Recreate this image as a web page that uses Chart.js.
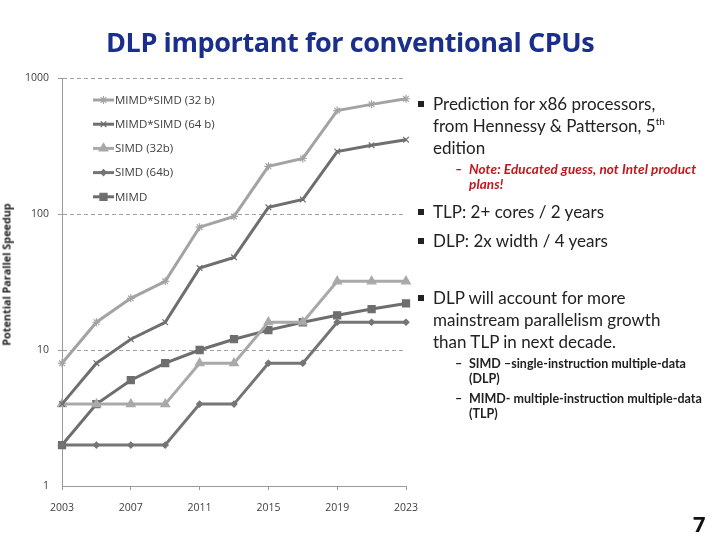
<!DOCTYPE html>
<html><head><meta charset="utf-8">
<script src="https://cdn.jsdelivr.net/npm/chart.js@4"></script>
<style>
html,body{margin:0;padding:0;background:#fff;width:720px;height:540px;overflow:hidden;font-family:Lato,"Open Sans",sans-serif;}
#wrap{position:absolute;left:0;top:0;width:720px;height:540px;}
.t{position:absolute;white-space:nowrap;}
#title{left:106px;top:23px;font:bold 27px "Open Sans",sans-serif;color:#1a2e8c;letter-spacing:-0.4px;}
.b{font-size:17px;color:#222;line-height:22px;}
.b .sq{position:absolute;left:-15px;top:8px;width:6px;height:6px;background:#222;}
.s{font-size:12.5px;line-height:15px;}
#ylab{left:-74px;top:267px;width:160px;text-align:center;transform:rotate(-90deg);font:bold 10.8px "Open Sans",sans-serif;color:#222;}
</style></head><body>
<div id="wrap"><canvas id="c" width="720" height="540"></canvas></div>
<div class="t" id="title">DLP important for conventional CPUs</div>
<div class="t" id="ylab">Potential Parallel Speedup</div>
<div class="t b" style="left:433px;top:93px;"><span class="sq"></span>Prediction for x86 processors,<br>from Hennessy &amp; Patterson, 5<sup style="font-size:10px;line-height:0">th</sup><br>edition</div>
<div class="t s" style="left:455px;top:162px;color:#c0161c;font-weight:bold;font-style:italic;">–</div>
<div class="t s" style="left:469px;top:162px;color:#c0161c;font-weight:bold;font-style:italic;font-size:13.5px;letter-spacing:0.1px;">Note: Educated guess, not Intel product<br>plans!</div>
<div class="t b" style="left:433px;top:201px;"><span class="sq"></span>TLP: 2+ cores / 2 years</div>
<div class="t b" style="left:433px;top:230px;"><span class="sq"></span>DLP: 2x width / 4 years</div>
<div class="t b" style="left:433px;top:287px;"><span class="sq"></span>DLP will account for more<br>mainstream parallelism growth<br>than TLP in next decade.</div>
<div class="t s" style="left:455px;top:356px;font-weight:bold;color:#222;">–</div>
<div class="t s" style="left:469px;top:356px;font-weight:bold;color:#222;">SIMD –single-instruction multiple-data<br>(DLP)</div>
<div class="t s" style="left:455px;top:391px;font-weight:bold;color:#222;">–</div>
<div class="t s" style="left:469px;top:391px;font-weight:bold;color:#222;">MIMD- multiple-instruction multiple-data<br>(TLP)</div>
<div class="t" style="left:693px;top:508px;font:bold 22px 'Open Sans',sans-serif;color:#111;">7</div>
<script>
const years = ['2003','2005','2007','2009','2011','2013','2015','2017','2019','2021','2023'];
const mimdSimd32 = [8,16,24,32,80,96,224,256,576,640,704];
const mimdSimd64 = [4,8,12,16,40,48,112,128,288,320,352];
const simd32 = [4,4,4,4,8,8,16,16,32,32,32];
const simd64 = [2,2,2,2,4,4,8,8,16,16,16];
const mimd = [2,4,6,8,10,12,14,16,18,20,22];
const yTicks = [1,10,100,1000];
const seriesNames = ['MIMD*SIMD (32 b)','MIMD*SIMD (64 b)','SIMD (32b)','SIMD (64b)','MIMD'];

function ds(label,data,color,style,radius,fill){
  return {label,data,borderColor:color,backgroundColor:fill?color:'transparent',pointBorderColor:color,pointBackgroundColor:color,
    pointStyle:style,pointRadius:radius,pointBorderWidth:1.2,borderWidth:3,tension:0,pointHoverRadius:radius};
}
const datasets = [
  ds(seriesNames[0],mimdSimd32,'#a3a3a3','star',4,false),
  ds(seriesNames[1],mimdSimd64,'#6f6f6f','crossRot',4,false),
  ds(seriesNames[2],simd32,'#a9a9a9','triangle',5,true),
  ds(seriesNames[3],simd64,'#757575','rectRot',3,true),
  ds(seriesNames[4],mimd,'#6e6e6e','rect',5,true)
];

const legendPlugin = {
  id:'inLegend',
  afterDatasetsDraw(chart){
    const ctx = chart.ctx;
    ctx.save();
    ctx.font = '11.5px "Open Sans", sans-serif';
    ctx.textBaseline = 'middle';
    chart.data.datasets.forEach((d,i)=>{
      const y = 100 + i*24.2;
      ctx.strokeStyle = d.borderColor; ctx.lineWidth = 3;
      ctx.beginPath(); ctx.moveTo(93,y); ctx.lineTo(114,y); ctx.stroke();
      ctx.fillStyle = d.pointBackgroundColor; ctx.strokeStyle = d.pointBorderColor; ctx.lineWidth = 1.2;
      Chart.helpers.drawPoint(ctx,{pointStyle:d.pointStyle,radius:d.pointRadius,borderWidth:1.2,rotation:0},103.5,y);
      ctx.fillStyle = '#404040';
      ctx.fillText(d.label,115,y+0.5);
    });
    ctx.restore();
  }
};

new Chart(document.getElementById('c'),{
  type:'line',
  data:{labels:years,datasets},
  options:{
    responsive:false,animation:false,
    layout:{padding:{left:0,top:78,right:314,bottom:0}},
    plugins:{legend:{display:false},tooltip:{enabled:false}},
    scales:{
      x:{type:'category',offset:false,
        border:{color:'#9a9a9a',width:1},
        grid:{drawOnChartArea:false,tickLength:4,color:(c)=>c.index%2===0?'#9a9a9a':'transparent'},
        ticks:{autoSkip:false,maxRotation:0,padding:12,color:'#404040',font:{size:10.5,family:'"Open Sans", sans-serif'},
          callback:function(v,i){return i%2===0?this.getLabelForValue(v):'';}},
        afterFit(s){s.height=54;}
      },
      y:{type:'logarithmic',min:1,max:1000,
        border:{color:'#9a9a9a',width:1,dash:[4,3]},
        grid:{drawTicks:true,tickLength:4,color:(c)=>c.tick&&c.tick.value===1?'transparent':'#a0a0a0'},
        afterBuildTicks(s){s.ticks=yTicks.map(v=>({value:v}));},
        ticks:{color:'#404040',padding:9,font:{size:10.5,family:'"Open Sans", sans-serif'},callback:(v)=>String(v)},
        afterFit(s){s.width=62;}
      }
    }
  },
  plugins:[legendPlugin]
});
</script>
</body></html>
